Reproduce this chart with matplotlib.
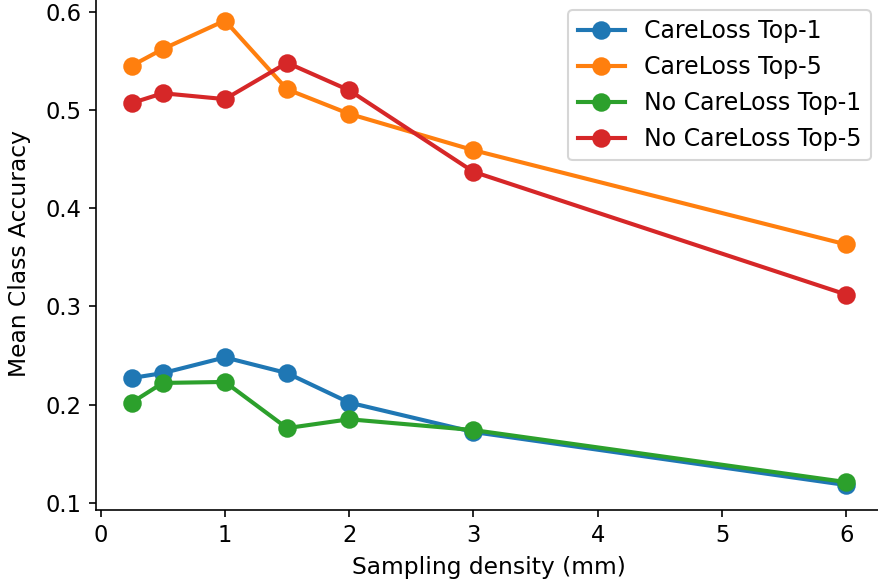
import numpy as np
import matplotlib
matplotlib.use("Agg")
import matplotlib.pyplot as plt

# sampling densities (mm)
density = [0.25, 0.5, 1, 1.5, 2, 3, 6]

careloss_top1 = [0.227, 0.232, 0.248, 0.232, 0.202, 0.172, 0.118]
careloss_top5 = [0.545, 0.562, 0.591, 0.521, 0.496, 0.459, 0.363]
no_careloss_top1 = [0.202, 0.222, 0.223, 0.176, 0.185, 0.174, 0.121]
no_careloss_top5 = [0.507, 0.517, 0.511, 0.548, 0.520, 0.437, 0.312]

labels = ["CareLoss Top-1", "CareLoss Top-5", "No CareLoss Top-1", "No CareLoss Top-5"]

DPI = 148
fig = plt.figure(figsize=(878 / DPI, 585 / DPI), dpi=DPI)
W, H = 878, 585
# axes placed in pixels: the original is cropped on the right and top
left, right, top, bottom = 96, 882, -3, 510
ax = fig.add_axes([left / W, (H - bottom) / H, (right - left) / W, (bottom - top) / H])

for vals, lab in zip([careloss_top1, careloss_top5, no_careloss_top1, no_careloss_top5], labels):
    ax.plot(density, vals, marker="o", markersize=8, linewidth=2, label=lab)

ax.set_xlim(-0.0375, 6.2875)
ax.set_ylim(0.0926, 0.615)
ax.set_yticks([0.1, 0.2, 0.3, 0.4, 0.5, 0.6])
ax.set_xticks([0, 1, 2, 3, 4, 5, 6])
ax.tick_params(labelsize=11)
ax.spines["top"].set_visible(False)
ax.spines["right"].set_visible(False)
ax.set_xlabel("Sampling density (mm)", fontsize=11.4)
ax.set_ylabel("Mean Class Accuracy", fontsize=11.4, labelpad=7)

ax.legend(loc="upper right", bbox_to_anchor=(871 / W, 1 - 10 / H),
          bbox_transform=fig.transFigure, borderaxespad=0, fontsize=11.5)

fig.savefig("out.png", dpi=DPI)
